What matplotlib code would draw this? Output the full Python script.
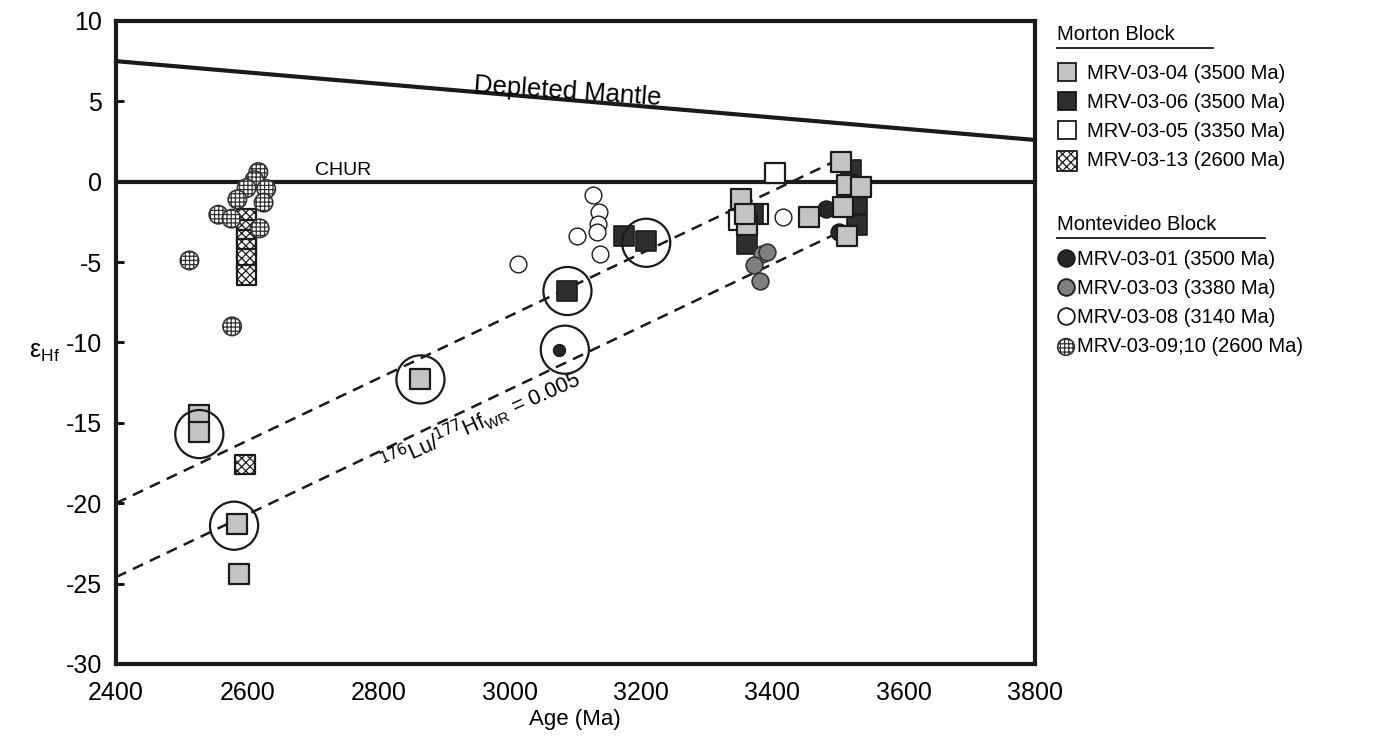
import matplotlib.pyplot as plt
from matplotlib.lines import Line2D

plt.rcParams['font.family'] = ['Liberation Sans', 'DejaVu Sans']
plt.rcParams['hatch.linewidth'] = 0.9
plt.rcParams['axes.unicode_minus'] = False

# --- Morton Block (squares) ---
mrv0304_age = [2527, 2527, 2584, 2588, 2864, 3353, 3361, 3358, 3456, 3505, 3514, 3535, 3508, 3514]
mrv0304_ehf = [-14.5, -15.6, -21.3, -24.4, -12.3, -1.1, -2.7, -2.0, -2.2, 1.2, -0.2, -0.3, -1.6, -3.4]

mrv0306_age = [3174, 3208, 3088, 3361, 3371, 3520, 3529, 3529]
mrv0306_ehf = [-3.4, -3.7, -6.8, -3.9, -2.0, 0.7, -1.4, -2.7]

mrv0305_age = [3404, 3350, 3378]
mrv0305_ehf = [0.55, -2.4, -2.0]

mrv0313_age = [2599, 2599, 2599, 2599, 2599, 2599, 2597]
mrv0313_ehf = [-2.3, -3.0, -3.6, -4.2, -4.8, -5.8, -17.6]

# --- Montevideo Block (circles) ---
mrv0301_age = [3075, 3482, 3502]
mrv0301_ehf = [-10.5, -1.7, -3.1]

mrv0303_age = [3385, 3392, 3372, 3382]
mrv0303_ehf = [-4.5, -4.4, -5.2, -6.2]

mrv0308_age = [3127, 3136, 3135, 3133, 3138, 3102, 3012, 3417]
mrv0308_ehf = [-0.8, -1.9, -2.6, -3.1, -4.5, -3.4, -5.1, -2.2]

mrv0309_age = [2512, 2577, 2617, 2611, 2599, 2629, 2585, 2625, 2556, 2576, 2619]
mrv0309_ehf = [-4.9, -9.0, 0.6, 0.1, -0.4, -0.45, -1.1, -1.3, -2.05, -2.3, -2.9]

# circled analyses
circled_age = [2527, 2580, 2864, 3088, 3084, 3208]
circled_ehf = [-15.7, -21.4, -12.3, -6.8, -10.45, -3.8]

# reference lines
dm_age = [2400, 3800]
dm_ehf = [7.5, 2.6]
upper_age = [2400, 3502]
upper_ehf = [-20.0, 1.4]
lower_age = [2400, 3494]
lower_ehf = [-24.6, -3.3]

fig = plt.figure(figsize=(13.87, 7.41), dpi=100)
ax = fig.add_axes([0.0836, 0.104, 0.6624, 0.8677])

ax.plot(dm_age, dm_ehf, color='#1a1a1a', lw=3, zorder=2)
ax.axhline(0, color='#1a1a1a', lw=3, zorder=2)
ax.plot(upper_age, upper_ehf, color='#1a1a1a', lw=1.8, ls=(0, (4.5, 3)), zorder=2)
ax.plot(lower_age, lower_ehf, color='#1a1a1a', lw=1.8, ls=(0, (4.5, 3)), zorder=2)

sq = 200
ci = 145
ax.scatter(mrv0305_age, mrv0305_ehf, marker='s', s=sq, facecolor='white', edgecolor='#1a1a1a', lw=1.6, zorder=3)
ax.scatter(mrv0306_age, mrv0306_ehf, marker='s', s=sq, facecolor='#2e2e2e', edgecolor='#1a1a1a', lw=1.2, zorder=4)
ax.scatter(mrv0301_age[1:], mrv0301_ehf[1:], marker='o', s=ci, facecolor='#262626', edgecolor='#1a1a1a', lw=1.2, zorder=4)
ax.scatter(mrv0301_age[:1], mrv0301_ehf[:1], marker='o', s=70, facecolor='#262626', edgecolor='#1a1a1a', lw=1.2, zorder=4)
ax.scatter(mrv0304_age, mrv0304_ehf, marker='s', s=sq, facecolor='#c4c4c4', edgecolor='#1a1a1a', lw=1.6, zorder=5)
ax.scatter(mrv0303_age, mrv0303_ehf, marker='o', s=ci, facecolor='#7f7f7f', edgecolor='#333333', lw=1.2, zorder=6)
ax.scatter(mrv0308_age, mrv0308_ehf, marker='o', s=ci, facecolor='white', edgecolor='#1a1a1a', lw=1.0, zorder=6)
ax.scatter(mrv0313_age, mrv0313_ehf, marker='s', s=sq, facecolor='white', edgecolor='#1a1a1a', lw=1.6,
           hatch='xxxx', zorder=6)
ax.scatter(mrv0309_age, mrv0309_ehf, marker='o', s=ci + 30, facecolor='white', edgecolor='#333333', lw=1.2,
           hatch='++++', zorder=7)
ax.scatter(circled_age, circled_ehf, marker='o', s=1200, facecolor='none', edgecolor='#1a1a1a', lw=1.6, zorder=8)

ax.text(3088, 5.6, 'Depleted Mantle', fontsize=18.5, rotation=-4, ha='center', va='center')
ax.text(2746, 0.7, 'CHUR', fontsize=14, ha='center', va='center')
ax.text(2955, -14.9, r'$^{176}$Lu/$^{177}$Hf$_{\mathregular{WR}}$ = 0.005', fontsize=15.5,
        rotation=24, ha='center', va='center', rotation_mode='anchor')

ax.set_xlim(2400, 3800)
ax.set_ylim(-30, 10)
ax.set_xticks(range(2400, 3801, 200))
ax.set_yticks(range(-30, 11, 5))
ax.tick_params(axis='y', direction='in', length=6, width=2, labelsize=18, pad=10)
ax.tick_params(axis='x', direction='in', length=0, labelsize=18, pad=12)
for sp in ax.spines.values():
    sp.set_linewidth(3)
    sp.set_color('#1a1a1a')
ax.set_xlabel('Age (Ma)', fontsize=16, labelpad=3)
fig.text(44 / 1387, 1 - 352 / 741, r'$\mathregular{ε_{Hf}}$', fontsize=18, ha='center', va='center')

# legends
def handle(marker, fc, ms=13.5):
    return Line2D([], [], ls='none', marker=marker, markersize=ms, markerfacecolor=fc,
                  markeredgecolor='#1a1a1a', markeredgewidth=1.3, fillstyle='full')

fig.text(1057 / 1387, 1 - 35 / 741, 'Morton Block', fontsize=14.5, va='center')
fig.add_artist(Line2D([1057 / 1387, 1213 / 1387], [1 - 48 / 741] * 2, color='#1a1a1a', lw=1.3))
fig.text(1057 / 1387, 1 - 225 / 741, 'Montevideo Block', fontsize=14.5, va='center')
fig.add_artist(Line2D([1057 / 1387, 1265 / 1387], [1 - 238 / 741] * 2, color='#1a1a1a', lw=1.3))

h13 = ax.scatter([], [], marker='s', s=sq, facecolor='white', edgecolor='#1a1a1a', lw=1.3, hatch='xxxx')
h09 = ax.scatter([], [], marker='o', s=ci, facecolor='white', edgecolor='#333333', lw=1.2, hatch='++++')
fig.legend([handle('s', '#c4c4c4'), handle('s', '#2e2e2e'), handle('s', 'white'), h13],
           ['MRV-03-04 (3500 Ma)', 'MRV-03-06 (3500 Ma)', 'MRV-03-05 (3350 Ma)', 'MRV-03-13 (2600 Ma)'],
           loc='upper left', bbox_to_anchor=(1058 / 1387, 1 - 64 / 741), frameon=False, fontsize=14.5,
           handlelength=0.9, handletextpad=0.55, labelspacing=0.5, borderpad=0, borderaxespad=0)
fig.legend([handle('o', '#262626', ms=12), handle('o', '#7f7f7f', ms=12), handle('o', 'white', ms=12), h09],
           ['MRV-03-01 (3500 Ma)', 'MRV-03-03 (3380 Ma)', 'MRV-03-08 (3140 Ma)', 'MRV-03-09;10 (2600 Ma)'],
           loc='upper left', bbox_to_anchor=(1060 / 1387, 1 - 250 / 741), frameon=False, fontsize=14.5,
           handlelength=0.6, handletextpad=0.25, labelspacing=0.5, borderpad=0, borderaxespad=0)

fig.savefig('out.png', dpi=100)
